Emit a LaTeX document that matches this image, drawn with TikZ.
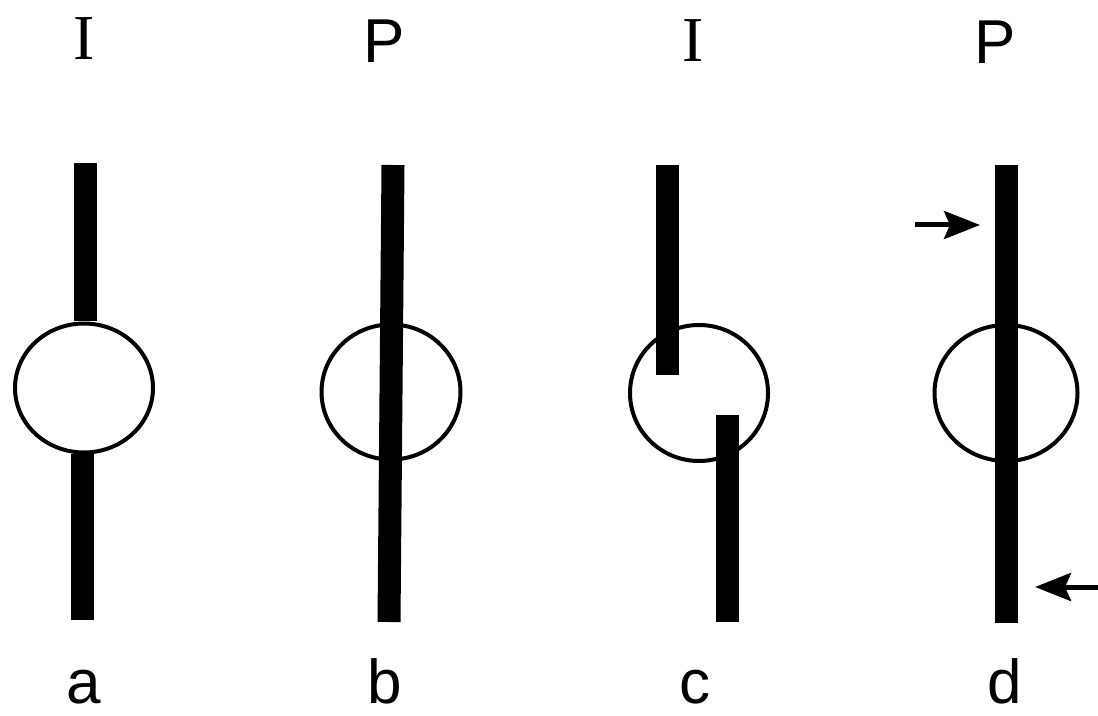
\documentclass[tikz,border=0pt]{standalone}
\usepackage{fontspec}
\setmainfont{Liberation Serif}
\newfontfamily\lsans{Liberation Sans}
\usepackage{tikz}
\usetikzlibrary{arrows.meta,positioning,shapes.geometric}

\begin{document}
\begin{tikzpicture}[
  x=0.5pt, y=-0.5pt,
  bar/.style={line width=11.5pt,line cap=butt},
  ring/.style={draw,ellipse,line width=2pt,inner sep=0pt},
  arr/.style={-{Stealth[length=18pt,width=14pt,inset=3pt]},line width=2.5pt},
  toplbl/.style={anchor=base,inner sep=1pt,font=\fontsize{32}{38}\selectfont},
  sidelbl/.style={anchor=base,inner sep=1pt,font=\lsans\fontsize{31}{36}\selectfont}
]
\useasboundingbox (0,0) rectangle (1098,716);
% headings
\node[toplbl] (ta) at (84,60) {I};
\node[sidelbl] (tb) at (384,63) {P};
\node[toplbl] (tc) at (693,62) {I};
\node[sidelbl] (td) at (995,64) {P};
% rings
\node[ring,minimum width=69pt,minimum height=64.5pt] (ra) at (84,388) {};
\node[ring,minimum width=69.5pt,minimum height=67.5pt] (rb) at (391,392) {};
\node[ring,minimum width=69pt,minimum height=68pt] (rc) at (699,393) {};
\node[ring,minimum width=71.5pt,minimum height=68pt] (rd) at (1006,393) {};
% a: broken strand, ends at the ring
\coordinate (a1) at (85,163);
\coordinate (a2) at (82,620);
\draw[bar] (a1) -- (a1 |- ra.north);
\draw[bar] (a2 |- ra.south) -- (a2);
% b: continuous strand
\coordinate (b1) at (393,165);
\coordinate (b2) at (389,622);
\draw[bar] (b1) -- (b2);
% c: two offset pieces
\coordinate (c1) at (667,165);
\coordinate (c2) at (667,375);
\coordinate (c3) at (727,415);
\coordinate (c4) at (727,622);
\draw[bar] (c1) -- (c2);
\draw[bar] (c3) -- (c4);
% d: strand with arrows
\coordinate (d1) at (1006,165);
\coordinate (d2) at (1006,623);
\draw[bar] (d1) -- (d2);
\coordinate (p1) at (915,225);
\coordinate (p2) at (1098,587);
\draw[arr] (p1) -- (980,225);
\draw[arr] (p2) -- (1035,587);
% panel letters
\node[sidelbl] (la) at (84,703) {a};
\node[sidelbl] (lb) at (385,703) {b};
\node[sidelbl] (lc) at (695,703) {c};
\node[sidelbl] (ld) at (1005,703) {d};
\end{tikzpicture}
\end{document}
